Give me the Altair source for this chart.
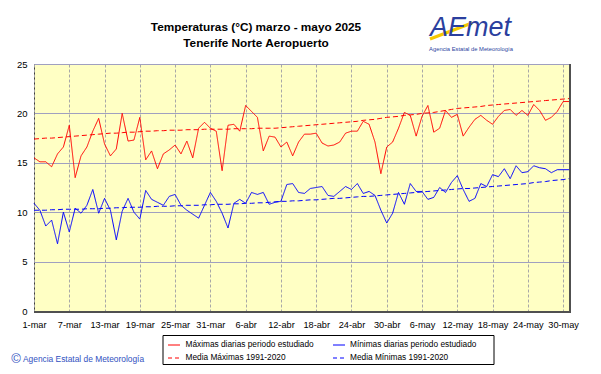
import altair as alt
import pandas as pd

days = list(range(92))
tick_days = [0, 6, 12, 18, 24, 30, 36, 42, 48, 54, 60, 66, 72, 78, 84, 90]
tick_labels = ["1-mar", "7-mar", "13-mar", "19-mar", "25-mar", "31-mar", "6-abr", "12-abr",
               "18-abr", "24-abr", "30-abr", "6-may", "12-may", "18-may", "24-may", "30-may"]

tmax = [15.5, 15.1, 15.1, 14.6, 15.9, 16.6, 18.8, 13.5, 15.7, 16.6, 18.2, 19.5,
        16.9, 15.7, 16.4, 20.0, 17.2, 17.3, 19.6, 15.3, 16.2, 14.4, 15.9, 16.3,
        16.8, 15.9, 17.2, 15.5, 18.5, 19.1, 18.5, 18.2, 14.2, 18.8, 18.9, 18.2,
        20.8, 20.2, 19.6, 16.2, 17.7, 17.6, 16.6, 17.1, 15.7, 17.1, 17.9, 17.9,
        18.0, 17.0, 16.7, 16.8, 17.1, 18.0, 18.2, 18.2, 19.2, 18.9, 17.1, 13.9,
        16.6, 17.1, 18.5, 20.1, 19.8, 17.7, 19.7, 20.8, 18.1, 18.5, 20.3, 19.6,
        19.9, 17.7, 18.6, 19.4, 19.8, 19.3, 18.9, 19.7, 20.3, 20.4, 19.8, 20.3,
        19.8, 20.9, 20.3, 19.3, 19.6, 20.2, 21.2, 21.2]

tmin = [10.9, 10.2, 8.6, 9.2, 6.8, 10.0, 8.0, 10.4, 9.9, 10.7, 12.3, 9.9,
        11.4, 10.2, 7.2, 10.1, 11.4, 10.0, 9.3, 12.2, 11.3, 11.0, 10.7, 11.6,
        11.8, 10.7, 10.2, 9.8, 9.4, 10.7, 12.0, 11.1, 9.9, 8.4, 10.9, 11.3,
        10.9, 12.0, 11.8, 12.0, 10.8, 11.0, 11.1, 12.8, 12.9, 12.0, 11.9, 12.4,
        12.5, 12.6, 11.7, 11.6, 12.1, 12.6, 12.3, 12.9, 11.9, 12.1, 11.7, 10.2,
        8.9, 9.9, 12.0, 10.8, 12.9, 12.1, 12.1, 11.3, 11.5, 12.5, 12.0, 13.0,
        13.7, 12.3, 11.1, 11.4, 12.9, 12.6, 13.8, 13.6, 14.4, 13.4, 14.7, 14.0,
        14.1, 14.7, 14.5, 14.4, 14.0, 14.3, 14.3, 14.3]

mean_max = [17.4, 17.45, 17.5, 17.5, 17.55, 17.6, 17.65, 17.7, 17.75, 17.8, 17.85, 17.9,
            17.95, 18.0, 18.0, 18.05, 18.1, 18.1, 18.15, 18.2, 18.2, 18.25, 18.25, 18.3,
            18.3, 18.3, 18.35, 18.35, 18.35, 18.4, 18.4, 18.4, 18.4, 18.4, 18.45, 18.45,
            18.45, 18.45, 18.5, 18.5, 18.5, 18.5, 18.55, 18.6, 18.65, 18.7, 18.75, 18.8,
            18.85, 18.9, 18.95, 19.0, 19.05, 19.1, 19.15, 19.2, 19.3, 19.35, 19.4, 19.5,
            19.6, 19.65, 19.7, 19.8, 19.85, 19.9, 20.0, 20.05, 20.1, 20.2, 20.3, 20.4,
            20.5, 20.55, 20.6, 20.65, 20.7, 20.8, 20.85, 20.9, 20.95, 21.0, 21.05, 21.1,
            21.15, 21.2, 21.25, 21.3, 21.35, 21.4, 21.45, 21.5]

mean_min = [10.2, 10.2, 10.2, 10.25, 10.25, 10.3, 10.3, 10.3, 10.3, 10.35, 10.35, 10.35,
            10.4, 10.4, 10.45, 10.45, 10.5, 10.5, 10.5, 10.55, 10.55, 10.6, 10.6, 10.6,
            10.65, 10.65, 10.7, 10.7, 10.7, 10.75, 10.75, 10.8, 10.8, 10.8, 10.85, 10.85,
            10.9, 10.9, 10.95, 10.95, 11.0, 11.05, 11.1, 11.1, 11.15, 11.15, 11.2, 11.25,
            11.25, 11.3, 11.35, 11.4, 11.4, 11.45, 11.5, 11.55, 11.6, 11.6, 11.65, 11.7,
            11.75, 11.8, 11.85, 11.9, 11.95, 12.0, 12.05, 12.1, 12.15, 12.2, 12.25, 12.3,
            12.35, 12.4, 12.4, 12.45, 12.5, 12.55, 12.6, 12.65, 12.7, 12.75, 12.8, 12.85,
            12.9, 13.0, 13.05, 13.1, 13.2, 13.25, 13.3, 13.4]

series_names = ["Máximas diarias periodo estudiado", "Mínimas diarias periodo estudiado",
                "Media Máximas 1991-2020", "Media Mínimas 1991-2020"]
series_colors = ["#FF0000", "#0000FF", "#FF0000", "#0000FF"]
series_dash = [[1, 0], [1, 0], [5, 3], [5, 3]]

rows = []
for name, vals in zip(series_names, [tmax, tmin, mean_max, mean_min]):
    for d, v in zip(days, vals):
        rows.append({"serie": name, "dia": d, "temp": v})
df = pd.DataFrame(rows)

W, H = 535, 247
REG = "Liberation Sans, Arial"

label_expr = "[" + ",".join("'" + l + "'" for l in tick_labels) + "][round(datum.value/6)]"

x_enc = alt.X("dia:Q", scale=alt.Scale(domain=[0, 91], nice=False, zero=False),
              axis=alt.Axis(values=tick_days, labelExpr=label_expr, title=None, grid=True,
                            gridDash=[3, 2], gridColor="#a8a8a8", ticks=False, domain=False,
                            labelFontSize=9.2, labelFont=REG, labelPadding=9, labelColor="black",
                            labelFlush=False, labelOverlap=False))
y_enc = alt.Y("temp:Q", scale=alt.Scale(domain=[0, 25], nice=False),
              axis=alt.Axis(values=[0, 5, 10, 15, 20, 25], title=None, grid=True,
                            gridColor="#a0a0c0", ticks=False, domain=False,
                            labelFontSize=9.5, labelFont=REG, labelPadding=7, labelColor="black"))

lines = alt.Chart(df).mark_line(strokeWidth=1).encode(
    x=x_enc, y=y_enc,
    color=alt.Color("serie:N", scale=alt.Scale(domain=series_names, range=series_colors), legend=None),
    strokeDash=alt.StrokeDash("serie:N", scale=alt.Scale(domain=series_names, range=series_dash), legend=None),
    detail="serie:N",
)

one = alt.Data(values=[{}])

def txt(text, x, y, size, color="black", font=REG, weight="normal", align="center", style="normal"):
    return alt.Chart(one).mark_text(text=text, fontSize=size, font=font, fontWeight=weight,
                                    align=align, baseline="middle", color=color, fontStyle=style).encode(
        x=alt.value(x), y=alt.value(y))

def rule(x, y, x2, y2, color, width=1, dash=None):
    kw = dict(color=color, strokeWidth=width)
    if dash:
        kw["strokeDash"] = dash
    return alt.Chart(one).mark_rule(**kw).encode(
        x=alt.value(x), y=alt.value(y), x2=alt.value(x2), y2=alt.value(y2))

# frame shadow (right and bottom)
shadow_r = rule(W + 1, 0, W + 1, H + 2, "#505050", 2)
shadow_b = rule(0, H + 1, W + 2, H + 1, "#505050", 2)

title1 = txt("Temperaturas (°C) marzo  - mayo 2025", 222, -37, 11.8, weight="bold")
title2 = txt("Tenerife Norte Aeropuerto", 222, -21, 11.8, weight="bold")

logo_swoosh = rule(396, -25, 438, -41, "#F5C800", 3)
logo = txt("AEmet", 396, -36, 27, color="#2B3F9E", align="left", style="italic")
logo_sub = txt("Agencia Estatal de Meteorología", 437, -15, 5.8, color="#2B3F9E")

legend_box = alt.Chart(one).mark_rect(fill="white", stroke="black", strokeWidth=1).encode(
    x=alt.value(129), x2=alt.value(460), y=alt.value(271.5), y2=alt.value(300.5))
lg = [
    rule(134, 281, 146, 281, "#FF0000"),
    rule(134, 294, 146, 294, "#FF0000", dash=[4, 3]),
    rule(299, 281, 311, 281, "#0000FF"),
    rule(299, 294, 311, 294, "#0000FF", dash=[4, 3]),
    txt(series_names[0], 151.5, 281, 8.3, align="left"),
    txt(series_names[2], 151.5, 294, 8.3, align="left"),
    txt(series_names[1], 316, 281, 8.3, align="left"),
    txt(series_names[3], 316, 294, 8.3, align="left"),
]

copy_c = txt("©", -18, 294.5, 13, color="#3050C0")
copy_t = txt("Agencia Estatal de Meteorología", -11, 294.5, 8.4, color="#3050C0", align="left")

chart = alt.layer(
    lines, shadow_r, shadow_b, title1, title2, logo_swoosh, logo, logo_sub,
    legend_box, *lg, copy_c, copy_t
).properties(
    width=W, height=H,
    padding={"left": 26, "top": 56, "right": 23, "bottom": 54},
    autosize="none",
    background="white",
).configure_view(fill="#FFFFC4", stroke="#404040", strokeWidth=1)

chart.save("out.html", embed_options={"renderer": "svg", "actions": False})
